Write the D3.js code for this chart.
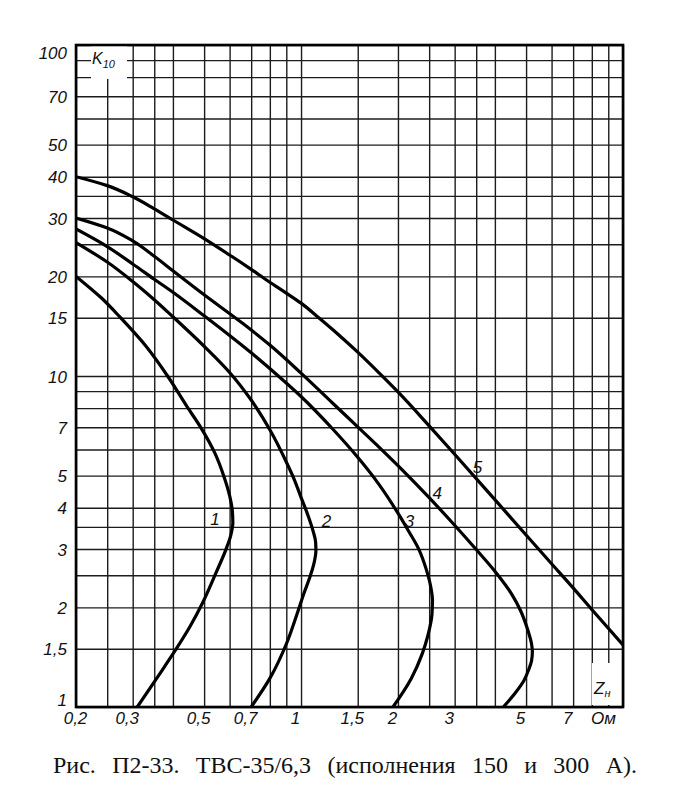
<!DOCTYPE html>
<html><head><meta charset="utf-8">
<script src="https://cdn.jsdelivr.net/npm/d3@7"></script>
<style>
html,body{margin:0;padding:0;background:#fff;}
svg{display:block;}
.tk text{font-family:"Liberation Sans",Arial,sans-serif;font-style:italic;font-size:17px;fill:#111;}
</style></head>
<body>
<svg id="c" width="688" height="802"></svg>
<script>
// ---- data ----
const xGrid = [0.2,0.25,0.3,0.35,0.4,0.5,0.6,0.7,0.8,0.9,1,1.5,2,2.5,3,3.5,4,5,6,7,8,9,10];
const yGrid = [1,1.5,2,2.5,3,3.5,4,5,6,7,8,9,10,15,20,25,30,35,40,50,60,70,80,90,100];
const xTickVals = [0.2,0.3,0.5,0.7,1,1.5,2,3,5,7,10];
const xTickText = ["0,2","0,3","0,5","0,7","1","1,5","2","3","5","7","Ом"];
const yTickVals = [1,1.5,2,3,4,5,7,10,15,20,30,40,50,70,100];
const yTickText = ["1","1,5","2","3","4","5","7","10","15","20","30","40","50","70","100"];

const curve1 = [[0.2,20],[0.24,17.2],[0.275,15],[0.33,12.3],[0.385,10],[0.44,8.15],[0.49,6.95],[0.54,5.85],[0.575,5.0],[0.6,4.35],[0.612,3.9],[0.614,3.6],[0.605,3.3],[0.585,3],[0.545,2.55],[0.493,2.05],[0.452,1.75],[0.41,1.5],[0.36,1.24],[0.31,1]];
const curve2 = [[0.2,25.3],[0.25,22.1],[0.3,19.3],[0.35,17.0],[0.4,15.1],[0.5,12.3],[0.6,10.25],[0.7,8.46],[0.8,6.88],[0.9,5.5],[0.95,4.9],[1.0,4.3],[1.05,3.8],[1.09,3.4],[1.11,3.15],[1.112,2.95],[1.1,2.75],[1.07,2.5],[1.02,2.2],[0.97,1.9],[0.9,1.55],[0.8,1.22],[0.7,1]];
const curve3 = [[0.2,27.8],[0.25,24.6],[0.3,21.8],[0.35,19.6],[0.4,17.9],[0.5,15.2],[0.6,13.25],[0.7,11.75],[0.85,10.0],[1.0,8.67],[1.25,6.94],[1.5,5.68],[1.75,4.69],[2.0,3.85],[2.15,3.42],[2.32,3.0],[2.45,2.6],[2.53,2.3],[2.56,2.1],[2.55,1.9],[2.48,1.65],[2.38,1.45],[2.2,1.22],[1.93,1]];
const curve4 = [[0.2,30],[0.25,28.0],[0.3,25.6],[0.35,23.0],[0.4,20.8],[0.5,17.6],[0.66,14.4],[0.8,12.4],[1.0,10.2],[1.25,8.3],[1.5,7.02],[1.75,6.09],[2,5.36],[2.5,4.29],[3,3.54],[3.5,2.99],[4,2.57],[4.5,2.2],[4.8,1.96],[5.05,1.72],[5.2,1.55],[5.23,1.47],[5.2,1.38],[5.1,1.3],[4.92,1.2],[4.62,1.1],[4.25,1]];
const curve5 = [[0.2,40],[0.25,37.6],[0.3,34.8],[0.35,32.0],[0.4,29.6],[0.5,26.0],[0.6,23.2],[0.7,21.0],[0.8,19.2],[0.9,17.8],[1.0,16.6],[1.135,15],[1.3,13.4],[1.5,11.8],[1.75,10.2],[2,8.95],[2.5,7.07],[3,5.8],[4,4.23],[5,3.31],[6,2.71],[7,2.29],[8,1.97],[10,1.54]];
const curves = [curve1,curve2,curve3,curve4,curve5];
const curveNames = ["1","2","3","4","5"];
const curveLabelX = [0.54,1.2,2.17,2.65,3.53];
const curveLabelY = [3.7,3.65,3.65,4.43,5.3];
const captionWords = ["Рис.","П2-33.","ТВС-35/6,3","(исполнения","150","и","300","А)."];

// ---- layout ----
const L=76, R=623, T=45, B=707;
const svg = d3.select("#c");
const x = d3.scaleLog().domain([0.2,10]).range([L,R]);
const y = d3.scaleLog().domain([1,100]).range([B,T]);

// grid
const gx = svg.append("g").attr("transform",`translate(0,${B})`)
  .call(d3.axisBottom(x).tickValues(xGrid).tickSize(-(B-T)).tickFormat(""));
gx.select(".domain").remove();
gx.selectAll("line").attr("stroke","#1c1c1c").attr("stroke-width",1.4);
const gy = svg.append("g").attr("transform",`translate(${L},0)`)
  .call(d3.axisLeft(y).tickValues(yGrid).tickSize(-(R-L)).tickFormat(""));
gy.select(".domain").remove();
gy.selectAll("line").attr("stroke","#1c1c1c").attr("stroke-width",1.4);

// white gaps behind axis names
svg.append("rect").attr("x",L+15).attr("y",T+1).attr("width",36).attr("height",33).attr("fill","#fff");
svg.append("rect").attr("x",592).attr("y",663).attr("width",26).attr("height",B-663-2).attr("fill","#fff");

// frame
svg.append("rect").attr("x",L).attr("y",T).attr("width",R-L).attr("height",B-T)
  .attr("fill","none").attr("stroke","#000").attr("stroke-width",2.6);

// curves
const line = d3.line().x(d=>x(d[0])).y(d=>y(d[1])).curve(d3.curveMonotoneY);
svg.append("clipPath").attr("id","pc").append("rect").attr("x",L).attr("y",T).attr("width",R-L).attr("height",B-T);
svg.append("g").attr("clip-path","url(#pc)").selectAll("path").data(curves).join("path")
  .attr("d",line).attr("fill","none").attr("stroke","#000").attr("stroke-width",3.2)
  .attr("stroke-linejoin","round");

// curve labels
svg.append("g").selectAll("text").data(curveNames).join("text")
  .attr("x",(d,i)=>x(curveLabelX[i])).attr("y",(d,i)=>y(curveLabelY[i])+6)
  .attr("text-anchor","middle")
  .attr("font-family","Liberation Sans, Arial, sans-serif").attr("font-style","italic")
  .attr("font-size",17).attr("fill","#111").text(d=>d);

// x tick labels
const ax = svg.append("g").attr("class","tk").attr("transform",`translate(0,${B})`)
  .call(d3.axisBottom(x).tickValues(xTickVals).tickSize(0).tickPadding(5)
    .tickFormat((d,i)=>xTickText[i]));
ax.select(".domain").remove();
ax.selectAll("text").attr("dx",(d,i)=> i===xTickVals.length-1 ? "-20" : (i===0 ? "-1" : "-6"));

// y tick labels
const ay = svg.append("g").attr("class","tk").attr("transform",`translate(${L},0)`)
  .call(d3.axisLeft(y).tickValues(yTickVals).tickSize(0).tickPadding(9)
    .tickFormat((d,i)=>yTickText[i]));
ay.select(".domain").remove();
ay.selectAll("text").attr("dy",(d)=> d===100 ? "0.78em" : (d===1 ? "-0.08em" : "0.36em"));

// axis names
const kt = svg.append("text").attr("x",L+16).attr("y",T+19)
  .attr("font-family","Liberation Sans, Arial, sans-serif").attr("font-style","italic").attr("fill","#111");
kt.append("tspan").attr("font-size",16).text("K");
kt.append("tspan").attr("font-size",11).attr("dy",4).text("10");

const zt = svg.append("text").attr("x",594).attr("y",694)
  .attr("font-family","Liberation Sans, Arial, sans-serif").attr("font-style","italic").attr("fill","#111");
zt.append("tspan").attr("font-size",17).text("Z");
zt.append("tspan").attr("font-size",11).attr("dy",3).text("н");

// caption
const cap = svg.append("text").attr("x",53).attr("y",773)
  .attr("font-family","Liberation Serif, Times New Roman, serif").attr("font-size",24).attr("fill","#111")
  .text(captionWords.join(" "));
const natural = cap.node().getComputedTextLength();
const extra = (637 - 53 - natural) / (captionWords.length - 1);
cap.attr("word-spacing", Math.max(0, extra));
</script>
</body></html>
